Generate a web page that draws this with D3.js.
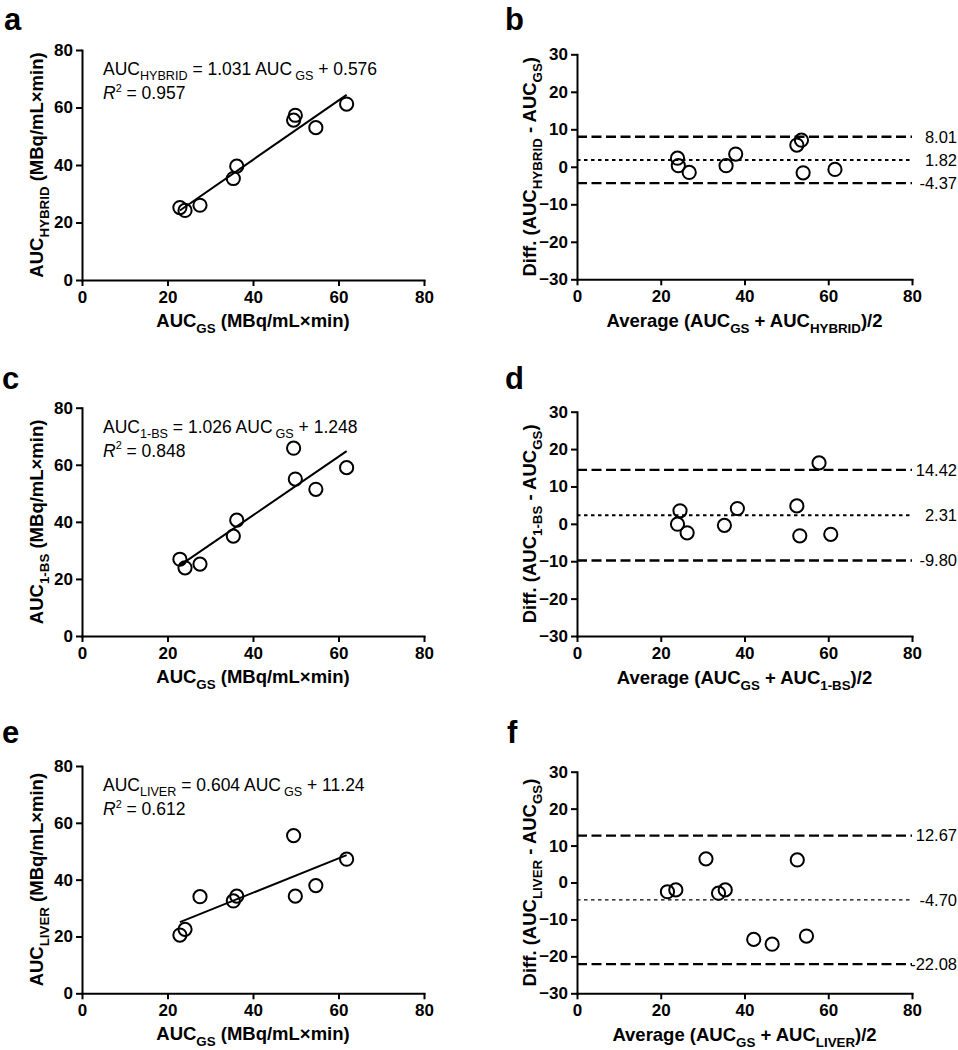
<!DOCTYPE html>
<html><head><meta charset="utf-8">
<script src="https://cdn.jsdelivr.net/npm/d3@7"></script>
<style>
body{margin:0;background:#fff}
svg{display:block}
text{font-family:"Liberation Sans",Arial,Helvetica,sans-serif;fill:#000}
</style>
</head><body>
<svg id="chart" width="958" height="1050"></svg>
<script>
// ---------- data ----------
const panelLetters = ["a","b","c","d","e","f"];
const methodNames = ["HYBRID","1-BS","LIVER"];
const xTicks = [0,20,40,60,80];
const yTicksScatter = [0,20,40,60,80];
const yTicksBA = [-30,-20,-10,0,10,20,30];

const aucGS     = [22.9, 24.1, 27.6, 35.4, 36.2, 49.5, 49.9, 54.7, 61.9];
const aucHybrid = [25.2, 24.2, 26.0, 35.3, 39.6, 55.6, 57.3, 53.0, 61.2];
const auc1BS    = [26.9, 23.9, 25.2, 35.0, 40.6, 65.8, 55.0, 51.4, 59.0];
const aucLiver  = [20.5, 22.5, 34.0, 32.5, 34.2, 55.5, 34.2, 37.9, 47.2];

const fitSlopes     = [1.031, 1.026, 0.604];
const fitIntercepts = [0.576, 1.248, 11.24];
const fitR2         = [0.957, 0.848, 0.612];

const baAvgHybrid  = [24.0, 24.2, 26.8, 35.6, 37.9, 52.5, 53.6, 54.0, 61.6];
const baDiffHybrid = [2.3, 0.3, -1.5, 0.3, 3.4, 5.8, 7.1, -1.6, -0.7];
const baAvg1BS     = [24.6, 24.0, 26.3, 35.2, 38.3, 52.5, 57.8, 53.2, 60.6];
const baDiff1BS    = [3.5, -0.1, -2.4, -0.4, 4.1, 4.8, 16.3, -3.2, -2.8];
const baAvgLiver   = [21.6, 23.6, 30.8, 33.8, 35.4, 42.2, 46.6, 52.6, 54.8];
const baDiffLiver  = [-2.5, -2.0, 6.4, -2.9, -2.0, -15.4, -16.7, 6.1, -14.5];

const baLimitsHybrid = [8.01, 1.82, -4.37];   // upper, mean, lower
const baLimits1BS    = [14.42, 2.31, -9.80];
const baLimitsLiver  = [12.67, -4.70, -22.08];

// ---------- layout ----------
const svg = d3.select("#chart");
const leftX = [82, 424], rightX = [577, 912];
const rowY = [
  {scatter:[280, 50],  ba:[279.3, 54.3]},
  {scatter:[636, 407.7], ba:[636, 411.7]},
  {scatter:[993.3, 766], ba:[993.3, 771.7]}
];
const letterPos = [[4,30],[505,30],[2,389],[505,389],[2,743],[507,743]];
const meanLineWidth = [2, 2, 1.4];

const scatterSets = [aucHybrid, auc1BS, aucLiver];
const baSets = [
  {avg:baAvgHybrid, diff:baDiffHybrid, lim:baLimitsHybrid},
  {avg:baAvg1BS, diff:baDiff1BS, lim:baLimits1BS},
  {avg:baAvgLiver, diff:baDiffLiver, lim:baLimitsLiver}
];

function rich(textSel, parts, size){
  let shift = 0;
  parts.forEach(p=>{
    let target = 0, fs = size;
    if(p.sub){ target = size*0.3; fs = size*0.72; }
    if(p.sup){ target = -size*0.42; fs = size*0.62; }
    const ts = textSel.append("tspan").text(p.t)
      .attr("font-size", fs)
      .attr("dy", target - shift);
    if(p.dx) ts.attr("dx", p.dx);
    if(p.italic) ts.attr("font-style","italic");
    shift = target;
  });
}

function styleAxis(g){
  g.attr("font-family", null).attr("font-size", null);
  g.select(".domain").attr("stroke","#000").attr("stroke-width",2).attr("stroke-linecap","square");
  g.selectAll(".tick line").attr("stroke","#000").attr("stroke-width",2);
  g.selectAll(".tick text").attr("font-size",17).attr("font-weight","bold").attr("fill","#000");
}

function drawAxes(x, y, yTicks){
  const gx = svg.append("g").attr("transform",`translate(0,${y.range()[0]})`)
    .call(d3.axisBottom(x).tickValues(xTicks).tickSize(6).tickSizeOuter(0).tickPadding(5).tickFormat(d3.format("d")));
  styleAxis(gx);
  const gy = svg.append("g").attr("transform",`translate(${x.range()[0]},0)`)
    .call(d3.axisLeft(y).tickValues(yTicks).tickSize(6).tickSizeOuter(0).tickPadding(3).tickFormat(d3.format("d")));
  styleAxis(gy);
}

function points(x, y, xs, ys){
  svg.append("g").selectAll("circle").data(xs.map((v,i)=>[v,ys[i]])).join("circle")
    .attr("cx", d=>x(d[0])).attr("cy", d=>y(d[1])).attr("r",6.6)
    .attr("fill","none").attr("stroke","#000").attr("stroke-width",2);
}

for(let r=0;r<3;r++){
  const name = methodNames[r];
  // ----- scatter (left) -----
  const xs = d3.scaleLinear().domain([0,80]).range(leftX);
  const ys = d3.scaleLinear().domain([0,80]).range(rowY[r].scatter);
  drawAxes(xs, ys, yTicksScatter);
  const ext = d3.extent(aucGS);
  svg.append("line")
    .attr("x1", xs(ext[0])).attr("y1", ys(fitSlopes[r]*ext[0]+fitIntercepts[r]))
    .attr("x2", xs(ext[1])).attr("y2", ys(fitSlopes[r]*ext[1]+fitIntercepts[r]))
    .attr("stroke","#000").attr("stroke-width",2);
  points(xs, ys, aucGS, scatterSets[r]);

  const top = rowY[r].scatter[1];
  const eq = svg.append("text").attr("x",103).attr("y",top+25);
  rich(eq, [{t:"AUC"},{t:name,sub:true},{t:` = ${fitSlopes[r]} AUC`},{t:"GS",sub:true,dx:3},{t:` + ${fitIntercepts[r]}`}], 17.5);
  const r2 = svg.append("text").attr("x",103).attr("y",top+49);
  rich(r2, [{t:"R",italic:true},{t:"2",sup:true},{t:` = ${fitR2[r]}`}], 17.5);

  const xt = svg.append("text").attr("x",(leftX[0]+leftX[1])/2).attr("y",rowY[r].scatter[0]+47)
    .attr("text-anchor","middle").attr("font-weight","bold");
  rich(xt, [{t:"AUC"},{t:"GS",sub:true},{t:" (MBq/mL×min)"}], 18.5);
  const yMid = (rowY[r].scatter[0]+rowY[r].scatter[1])/2;
  const yt = svg.append("text").attr("transform",`translate(43,${yMid}) rotate(-90)`)
    .attr("text-anchor","middle").attr("font-weight","bold");
  rich(yt, [{t:"AUC"},{t:name,sub:true},{t:" (MBq/mL×min)"}], 18.5);

  // ----- Bland-Altman (right) -----
  const xb = d3.scaleLinear().domain([0,80]).range(rightX);
  const yb = d3.scaleLinear().domain([-30,30]).range(rowY[r].ba);
  drawAxes(xb, yb, yTicksBA);
  const set = baSets[r];
  set.lim.forEach((v,i)=>{
    svg.append("line")
      .attr("x1", xb(0)).attr("x2", xb(80)).attr("y1", yb(v)).attr("y2", yb(v))
      .attr("stroke","#000")
      .attr("stroke-width", i===1 ? meanLineWidth[r] : 2.3)
      .attr("stroke-dasharray", i===1 ? "3.5,3.5" : "10,4.5");
    svg.append("text").attr("x",957).attr("y",yb(v)).attr("dy","0.35em")
      .attr("text-anchor","end").attr("font-size",16.5).text(v.toFixed(2));
  });
  points(xb, yb, set.avg, set.diff);

  const xbt = svg.append("text").attr("x",(rightX[0]+rightX[1])/2).attr("y",rowY[r].ba[0]+48)
    .attr("text-anchor","middle").attr("font-weight","bold");
  rich(xbt, [{t:"Average (AUC"},{t:"GS",sub:true},{t:" + AUC"},{t:name,sub:true},{t:")/2"}], 18.5);
  const yMidB = (rowY[r].ba[0]+rowY[r].ba[1])/2;
  const ybt = svg.append("text").attr("transform",`translate(536,${yMidB}) rotate(-90)`)
    .attr("text-anchor","middle").attr("font-weight","bold");
  rich(ybt, [{t:"Diff. (AUC"},{t:name,sub:true},{t:" - AUC"},{t:"GS",sub:true},{t:")"}], 18.5);
}

panelLetters.forEach((l,i)=>{
  svg.append("text").attr("x",letterPos[i][0]).attr("y",letterPos[i][1])
    .attr("font-size",31).attr("font-weight","bold").text(l);
});
</script>
</body></html>
